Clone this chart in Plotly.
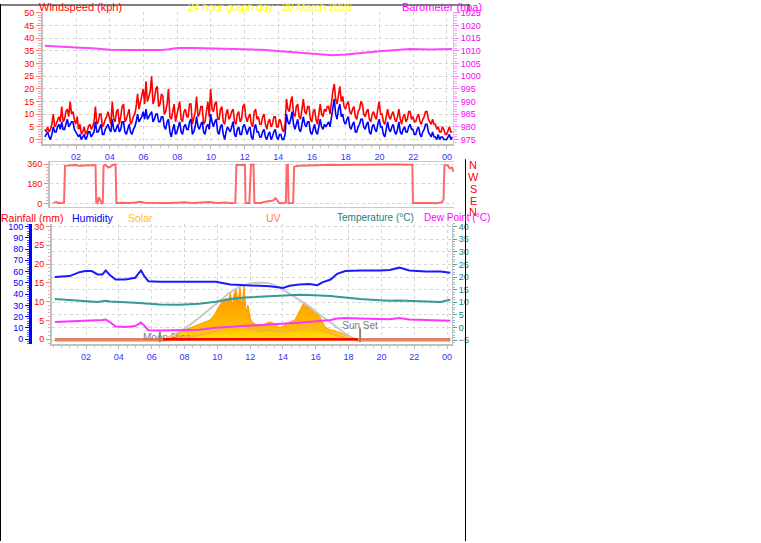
import plotly.graph_objects as go

W, H = 761, 543
def fx(px): return px / W
def fy(py): return 1 - py / H

FONT = "Liberation Sans, Arial, sans-serif"

# ---------------- data ----------------
tick_hours = [2, 4, 6, 8, 10, 12, 14, 16, 18, 20, 22, 24]
tick_labels = ["02", "04", "06", "08", "10", "12", "14", "16", "18", "20", "22", "00"]

# wind speed (kph), 5-minute samples starting 00:09 (one row per hour)
wind_start = 0.15
wind_step = 1 / 12
gust = [4, 3, 5, 3, 4, 6, 10, 5, 6, 8, 9, 7,
        13, 7, 8, 11, 12, 9, 15, 10, 11, 8, 6, 9,
        4, 6, 2, 3, 5, 2, 3, 5, 6, 4, 5, 7,
        13, 6, 7, 10, 10, 5, 6, 8, 9, 11, 8, 6,
        15, 8, 7, 11, 12, 6, 9, 13, 14, 7, 8, 10,
        12, 6, 7, 9, 10, 13, 18, 12, 15, 17, 20, 14,
        23, 15, 17, 19, 25, 14, 16, 20, 21, 13, 14, 18,
        17, 10, 11, 14, 20, 9, 8, 12, 14, 7, 10, 13,
        15, 8, 7, 11, 12, 9, 9, 14, 14, 6, 8, 11,
        17, 9, 10, 13, 13, 6, 7, 12, 15, 9, 20, 12,
        11, 14, 15, 8, 8, 12, 13, 7, 6, 10, 12, 8,
        9, 11, 12, 7, 6, 10, 11, 7, 8, 13, 14, 9,
        7, 9, 10, 6, 5, 11, 12, 8, 9, 6, 6, 9,
        10, 6, 4, 7, 8, 5, 6, 9, 9, 5, 5, 8,
        7, 4, 3, 6, 16, 12, 11, 15, 17, 10, 9, 13,
        14, 9, 8, 12, 16, 11, 10, 13, 13, 8, 7, 11,
        12, 8, 6, 10, 14, 10, 9, 12, 11, 13, 13, 10,
        15, 19, 22, 16, 14, 18, 21, 15, 17, 13, 12, 14,
        15, 11, 10, 12, 13, 9, 8, 11, 12, 15, 14, 10,
        9, 11, 12, 8, 7, 10, 11, 9, 8, 12, 15, 10,
        10, 7, 6, 9, 12, 9, 8, 10, 11, 8, 7, 9,
        12, 8, 6, 9, 10, 7, 8, 11, 11, 8, 9, 7,
        7, 9, 10, 7, 6, 8, 9, 11, 11, 8, 7, 6,
        8, 6, 6, 4, 5, 3, 3, 5, 4, 2, 2, 4,
        5, 3, 3]
avg = [1, 2, 3, 1, 0, 2, 5, 3, 3, 5, 6, 4,
       7, 4, 4, 6, 8, 5, 6, 7, 7, 4, 3, 2,
       1, 2, 0, 1, 2, 0, 1, 3, 3, 1, 2, 3,
       7, 3, 3, 5, 6, 2, 2, 4, 5, 6, 4, 3,
       8, 4, 3, 5, 6, 3, 4, 7, 7, 3, 2, 4,
       6, 3, 2, 4, 5, 7, 10, 7, 8, 9, 11, 8,
       12, 8, 9, 10, 11, 7, 8, 10, 10, 7, 7, 9,
       9, 5, 4, 7, 8, 3, 1, 4, 6, 2, 3, 5,
       7, 3, 2, 5, 6, 4, 4, 7, 8, 2, 3, 5,
       9, 5, 4, 6, 7, 3, 2, 5, 6, 4, 10, 7,
       5, 7, 8, 3, 2, 5, 6, 2, 0, 3, 5, 4,
       3, 5, 7, 2, 1, 4, 5, 2, 2, 5, 6, 4,
       2, 4, 5, 1, 0, 4, 6, 3, 3, 1, 1, 3,
       4, 1, 0, 2, 3, 0, 1, 3, 4, 1, 0, 2,
       2, 0, 0, 2, 10, 7, 6, 8, 11, 6, 4, 6,
       8, 4, 3, 6, 9, 6, 5, 7, 7, 3, 2, 4,
       6, 3, 2, 5, 8, 5, 4, 6, 5, 6, 7, 5,
       9, 13, 16, 10, 8, 12, 14, 9, 10, 7, 6, 8,
       9, 5, 4, 6, 7, 3, 3, 5, 6, 8, 8, 5,
       4, 6, 7, 3, 2, 5, 6, 4, 3, 6, 8, 5,
       5, 2, 1, 4, 7, 4, 3, 5, 6, 3, 2, 4,
       7, 3, 2, 4, 5, 3, 3, 5, 6, 4, 4, 2,
       2, 4, 5, 2, 1, 3, 4, 6, 6, 3, 2, 1,
       3, 1, 1, 0, 2, 0, 1, 1, 0, 0, 0, 1,
       2, 0, 1]
assert len(gust) == len(avg)
wind_t = [wind_start + i * wind_step for i in range(len(gust))]

# barometer (hPa)
baro_t = [0.15, 1.0, 2.0, 3.0, 3.5, 4.0, 5.0, 6.0, 7.0, 7.5, 8.0, 9.0, 10.0, 11.0, 11.7,
          12.5, 13.0, 14.0, 15.0, 16.0, 16.5, 17.2, 18.0, 18.5, 19.0, 20.0, 21.0, 21.8, 23.0, 24.3]
baro = [1012.0, 1011.8, 1011.3, 1011.0, 1010.8, 1010.4, 1010.3, 1010.3, 1010.3, 1010.6, 1011.1,
        1011.1, 1011.0, 1010.9, 1010.8, 1010.5, 1010.4, 1009.9, 1009.2, 1008.8, 1008.6, 1008.3,
        1008.6, 1009.0, 1009.3, 1009.9, 1010.3, 1010.7, 1010.5, 1010.7]

# wind direction (degrees)
wdir_t = [0.0, 0.2, 0.35, 0.55, 0.66, 0.72, 1.0, 1.3, 1.6, 2.0, 2.3, 2.58, 2.62, 2.7, 2.78,
          2.85, 2.95, 3.02, 3.07, 3.2, 3.35, 3.5, 3.65, 3.8, 3.85, 4.2, 4.6, 5.0, 5.3, 5.6,
          6.0, 6.5, 7.0, 7.5, 8.0, 8.5, 9.0, 9.5, 10.0, 10.5, 10.9, 11.1, 11.16, 11.4, 11.68,
          11.72, 11.95, 12.05, 12.2, 12.26, 12.6, 13.0, 13.4, 13.55, 13.75, 13.9, 14.18, 14.22,
          14.3, 14.34, 14.62, 14.68, 15.0, 15.5, 16.0, 16.5, 17.0, 17.5, 18.0, 18.5, 19.0,
          19.5, 20.0, 20.5, 21.0, 21.5, 21.88, 21.92, 22.3, 22.7, 23.0, 23.4, 23.7, 23.78,
          23.84, 24.05, 24.15, 24.3, 24.4]
wdir = [8, 15, 6, 5, 10, 345, 350, 352, 347, 350, 346, 352, 10, 5, 60,
        30, 5, 8, 348, 352, 330, 338, 355, 356, 8, 10, 6, 12, 18, 10,
        8, 12, 6, 10, 14, 8, 10, 16, 8, 12, 5, 10, 352, 356, 354,
        8, 6, 355, 356, 10, 8, 20, 30, 50, 10, 5, 12, 350,
        355, 5, 8, 338, 345, 348, 352, 350, 354, 352, 355, 356, 354,
        357, 356, 358, 357, 356, 355, 8, 10, 6, 8, 5, 15, 40,
        352, 348, 322, 330, 290]
assert len(wdir) == len(wdir_t)

# humidity (%), temperature and dew point (deg C)
t3 = [0.1, 1.0, 1.6, 1.95, 2.35, 2.7, 3.0, 3.2, 3.45, 3.8, 4.4, 5.0, 5.2, 5.35, 5.55, 5.8,
      6.5, 7.7, 8.9, 9.9, 10.8, 11.7, 12.6, 13.2, 14.0, 14.4, 15.0, 15.6, 16.1, 16.4, 16.9,
      17.3, 17.8, 18.7, 19.9, 20.5, 21.1, 21.7, 22.7, 23.6, 24.2]
humidity = [55.3, 56, 59.5, 60.5, 60.5, 57.5, 57.5, 61, 57, 53, 53, 54.5, 58.5, 61, 56, 51.5,
            51, 51, 50.5, 51, 48.5, 48, 48, 47, 45.5, 47.5, 48.5, 49, 48, 50.5, 53,
            58, 60.5, 61, 61, 61.5, 63.5, 61, 60, 60, 59]
temperature = [11.3, 10.9, 10.5, 10.2, 10.1, 10.1, 10.4, 10.6, 10.3, 10.1, 10.0, 9.8, 9.7, 9.7,
               9.5, 9.3, 9.1, 9.0, 9.4, 10.2, 11.3, 11.9, 12.2, 12.4, 12.7, 12.8, 13.0, 12.9,
               12.8, 12.7, 12.5, 12.2, 11.8, 11.3, 10.8, 10.6, 10.7, 10.5, 10.4, 10.1, 11.0]
dewpoint = [2.2, 2.4, 2.6, 2.7, 2.7, 2.8, 3.0, 3.2, 2.2, 0.4, 0.2, 0.6, 1.5, 2.0, 0.8, -1.0,
            -1.1, -1.0, -0.8, -0.1, 0.3, 0.8, 1.2, 1.4, 1.6, 1.7, 1.9, 2.2, 2.5, 2.7, 3.0,
            3.6, 3.8, 3.6, 3.3, 3.3, 3.8, 3.2, 3.0, 2.8, 2.7]

# solar radiation (W/m2)
solar_t = [6.69, 7.12, 7.73, 8.34, 8.95, 9.56, 9.86, 10.04, 10.28, 10.53, 10.65, 10.8, 10.9,
           11.02, 11.14, 11.26, 11.38, 11.5, 11.63, 11.75, 11.87, 11.99, 12.11, 12.3, 12.6,
           12.9, 13.21, 13.51, 13.82, 14.12, 14.43, 14.73, 14.92, 15.1, 15.28, 15.52, 15.77,
           16.01, 16.26, 16.56, 16.87, 17.17, 17.48, 17.78, 18.09, 18.39, 18.57]
solar = [0, 55, 99, 143, 187, 231, 297, 363, 429, 473, 429, 539, 374,
         517, 572, 429, 594, 363, 616, 319, 396, 264, 209, 187, 154,
         187, 209, 187, 143, 176, 209, 231, 297, 374, 429, 396, 363,
         319, 264, 154, 121, 110, 88, 66, 44, 11, 0]
solarmax_t = [6.69, 7.12, 8.03, 8.95, 9.86, 10.78, 11.38, 11.99, 12.6, 13.21, 13.82, 14.43,
              15.04, 15.65, 16.26, 16.87, 17.78, 18.39, 18.7]
solarmax = [0, 44, 135, 264, 396, 539, 605, 638, 649, 638, 594, 520, 451, 374, 286, 209,
            80, 14, 0]

# UV index
uv_t = [0.1, 6.8, 7.2, 8.0, 9.0, 10.0, 10.5, 11.0, 11.5, 12.0, 12.5, 13.0, 14.0, 15.0, 15.5,
        16.0, 16.5, 17.0, 17.5, 18.0, 18.5, 24.2]
uv = [0, 0, 0.1, 0.3, 0.6, 1.0, 1.3, 1.5, 1.6, 1.2, 1.0, 1.1, 0.9, 1.2, 1.4, 1.2, 1.0, 0.7,
      0.4, 0.2, 0, 0]

# rainfall (mm)
rain_t = [0.1, 6.0, 12.0, 18.0, 24.2]
rain = [0, 0, 0, 0, 0]

moonrise_h = 6.5
sunset_h = 18.7

# ---------------- figure ----------------
fig = go.Figure()

# panel 1: wind speed + barometer
fig.add_trace(go.Scatter(x=wind_t, y=gust, mode="lines", line=dict(color="#ff0000", width=1.6),
                         xaxis="x", yaxis="y"))
fig.add_trace(go.Scatter(x=wind_t, y=avg, mode="lines", line=dict(color="#0000ff", width=1.6),
                         xaxis="x", yaxis="y"))
fig.add_trace(go.Scatter(x=baro_t, y=baro, mode="lines", line=dict(color="#ff44ff", width=2),
                         xaxis="x", yaxis="y2"))

# panel 2: wind direction
fig.add_trace(go.Scatter(x=wdir_t, y=wdir, mode="lines",
                         line=dict(color="rgba(255,40,40,0.7)", width=2),
                         xaxis="x2", yaxis="y3"))

# panel 3
fig.add_trace(go.Scatter(x=solar_t, y=solar, mode="lines", fill="tozeroy",
                         line=dict(color="#ff9900", width=1),
                         fillgradient=dict(type="vertical", start=0, stop=500,
                                           colorscale=[[0, "#ffee00"], [0.3, "#ffc000"],
                                                       [1, "#ff9900"]]),
                         xaxis="x3", yaxis="y4"))
fig.add_trace(go.Scatter(x=[moonrise_h + 0.43], y=[25], mode="text", text=["Moon Rise"],
                         textfont=dict(color="#808080", size=10, family=FONT),
                         xaxis="x3", yaxis="y4"))
fig.add_trace(go.Scatter(x=solarmax_t, y=solarmax, mode="lines",
                         line=dict(color="#c8c8c8", width=2), xaxis="x3", yaxis="y4"))
fig.add_trace(go.Scatter(x=[sunset_h], y=[160], mode="text", text=["Sun Set"],
                         textfont=dict(color="#808080", size=10, family=FONT),
                         xaxis="x3", yaxis="y4"))
fig.add_trace(go.Scatter(x=uv_t, y=uv, mode="lines", line=dict(color="#f8b040", width=2),
                         xaxis="x3", yaxis="y5"))
fig.add_trace(go.Scatter(x=rain_t, y=rain, mode="lines",
                         line=dict(color="rgba(210,90,90,0.75)", width=2.5),
                         xaxis="x3", yaxis="y6"))
fig.add_trace(go.Scatter(x=solar_t, y=[0 for _ in solar_t], mode="lines",
                         line=dict(color="#ff0000", width=2.5), xaxis="x3", yaxis="y6"))
fig.add_trace(go.Scatter(x=t3, y=humidity, mode="lines", line=dict(color="#1a1aff", width=2),
                         xaxis="x3", yaxis="y7"))
fig.add_trace(go.Scatter(x=t3, y=temperature, mode="lines", line=dict(color="#339999", width=2),
                         xaxis="x3", yaxis="y8"))
fig.add_trace(go.Scatter(x=t3, y=dewpoint, mode="lines", line=dict(color="#ff33ff", width=2),
                         xaxis="x3", yaxis="y8"))

GRID = dict(showgrid=True, gridcolor="#d6d6d0", griddash="dot", gridwidth=1)
TF = dict(family=FONT, size=9)

xcommon = dict(tickmode="array", tickvals=tick_hours, ticktext=tick_labels,
               tickfont=dict(TF, color="#3333ff"), ticks="outside", ticklen=3,
               tickcolor="#b8b8b8", showline=True, linecolor="#c0c0c0", linewidth=2,
               zeroline=False,
               minor=dict(tickmode="linear", tick0=0, dtick=0.5, ticks="outside", ticklen=2,
                          tickcolor="#c8c8c8"),
               **GRID)

fig.update_layout(
    width=W, height=H, margin=dict(l=0, r=0, t=0, b=0),
    paper_bgcolor="white", plot_bgcolor="white", showlegend=False,
    font=dict(family=FONT, size=9),
    xaxis=dict(domain=[fx(43), fx(453)], range=[0.04, 24.36], anchor="y", **xcommon),
    yaxis=dict(domain=[fy(142), fy(8)], range=[-1.95, 50.39], anchor="x", tick0=0, dtick=5,
               tickfont=dict(TF, color="#ff0000"), ticks="outside", ticklen=5,
               tickcolor="#ff8080", showline=True, linecolor="#c0c0c0", linewidth=2,
               zeroline=False,
               minor=dict(dtick=1, ticks="outside", ticklen=3, tickcolor="#ffa0a0"), **GRID),
    yaxis2=dict(overlaying="y", side="right", anchor="x", range=[973.05, 1025.39], tick0=975,
                dtick=5, tickfont=dict(TF, color="#ff00ff"), ticks="outside", ticklen=5,
                tickcolor="#ff80ff", showline=True, linecolor="#d0d0d0", linewidth=1,
                showgrid=False, zeroline=False,
                minor=dict(dtick=1, ticks="outside", ticklen=3, tickcolor="#ffa0ff")),
    xaxis2=dict(domain=[fx(50), fx(454)], range=[-0.195, 24.42], anchor="y3",
                showticklabels=False, showline=True, mirror=True, linecolor="#c8c8c8",
                linewidth=1, showgrid=False, zeroline=False, ticks=""),
    yaxis3=dict(domain=[fy(205), fy(160)], range=[-27, 378], anchor="x2",
                tickmode="array", tickvals=[0, 180, 360], ticktext=["0", "180", "360"],
                tickfont=dict(TF, color="#ff0000"), ticks="outside", ticklen=4,
                tickcolor="#ff8080", showline=True, linecolor="#c0c0c0", linewidth=2,
                zeroline=False,
                minor=dict(tickmode="linear", tick0=0, dtick=30, ticks="outside", ticklen=2,
                           tickcolor="#ffa0a0"), **GRID),
    xaxis3=dict(domain=[fx(52), fx(452)], range=[-0.073, 24.30], anchor="y4", **xcommon),
    yaxis4=dict(domain=[fy(344), fy(222)], range=[-38.5, 1303.5], anchor="x3", visible=False),
    yaxis5=dict(overlaying="y4", range=[-0.35, 11.85], visible=False),
    yaxis6=dict(overlaying="y4", side="left", anchor="x3", range=[-1.316, 30.79], tick0=0,
                dtick=5, tickfont=dict(TF, color="#ff0000"), ticks="outside", ticklen=4,
                tickcolor="#ff8080", showline=True, linecolor="#c0c0c0", linewidth=2,
                showgrid=False, zeroline=False,
                minor=dict(dtick=1, ticks="outside", ticklen=2, tickcolor="#ffa0a0")),
    yaxis7=dict(overlaying="y4", side="left", anchor="free", position=fx(30),
                range=[-4.39, 102.63], tick0=0, dtick=10,
                tickfont=dict(TF, color="#0000ff"), ticks="outside", ticklen=4,
                tickcolor="#0000ff", showline=True, linecolor="#0000ff", linewidth=3,
                showgrid=False, zeroline=False,
                minor=dict(dtick=2, ticks="outside", ticklen=2, tickcolor="#6060ff")),
    yaxis8=dict(overlaying="y4", side="right", anchor="x3", range=[-6.565, 41.174], tick0=-5,
                dtick=5, tickfont=dict(TF, color="#208080"), ticks="outside", ticklen=4,
                tickcolor="#50a0a0", showline=True, linecolor="#c0c0c0", linewidth=1,
                zeroline=False,
                minor=dict(dtick=1, ticks="outside", ticklen=2, tickcolor="#80c0c0"), **GRID),
)

# moon rise / sun set markers
fig.add_shape(type="line", xref="x3", yref="paper", x0=moonrise_h, x1=moonrise_h,
              y0=fy(342), y1=fy(331), line=dict(color="#a08060", width=2))
fig.add_shape(type="line", xref="x3", yref="paper", x0=sunset_h, x1=sunset_h,
              y0=fy(342), y1=fy(328), line=dict(color="#a08060", width=2))

# page frame lines
for (x0, y0, x1, y1) in [(0, 1, 469, 1), (0.5, 0, 0.5, 543), (465.5, 157, 465.5, 543),
                         (469, 0, 469, 6)]:
    fig.add_shape(type="line", xref="paper", yref="paper", x0=fx(x0), x1=fx(x1),
                  y0=fy(y0), y1=fy(y1), line=dict(color="black", width=1))

def label(text, px, py, color, size=11, anchor="center"):
    fig.add_annotation(text=text, xref="paper", yref="paper", x=fx(px), y=fy(py),
                       xanchor=anchor, yanchor="middle", showarrow=False,
                       font=dict(family=FONT, size=size, color=color))

label("Windspeed (kph)", 37, 3, "#ff0000", anchor="left")
label("24 hour graph day : 20 March 2026", 186, 3, "#ffff00", size=10.5, anchor="left")
label("Barometer (hpa)", 400, 3, "#ff00ff", anchor="left")

label("Rainfall (mm)", -1, 216, "#ff0000", size=10.5, anchor="left")
label("Humidity", 70, 216, "#0000ff", size=10.5, anchor="left")
label("Solar", 126, 216, "#ffc000", size=10.5, anchor="left")
label("UV", 264, 216, "#ff8040", size=10.5, anchor="left")
label("Temperature (°C)", 335, 216, "#208080", size=10, anchor="left")
label("Dew Point (°C)", 422, 216, "#ff00ff", size=10, anchor="left")

for letter, py in zip(["N", "W", "S", "E", "N"], [163, 175, 187, 199, 210]):
    label(letter, 473, py, "#ff0000")

fig.write_html("out.html", config={"displayModeBar": False},
               post_script="document.body.style.margin='0';document.body.style.overflow='hidden';")
